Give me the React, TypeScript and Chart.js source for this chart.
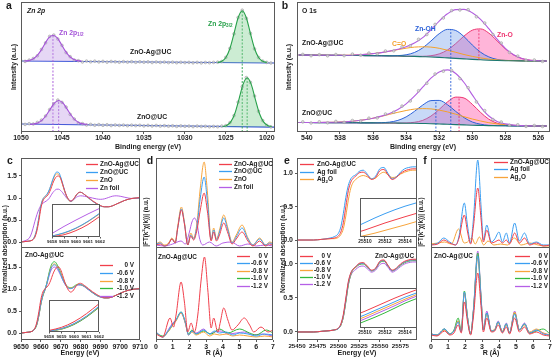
import React, { useEffect, useRef } from 'react';
import { Chart, registerables } from 'chart.js';

Chart.register(...registerables);

const FONT = '"Liberation Sans", Arial, Helvetica, sans-serif';
const RED = '#f13f4b';
const BLUE = '#3a9ef2';
const ORANGE = '#f7a43b';
const PURPLE = '#b55fe6';
const GREEN = '#32b83c';
const FRAME = '#5a5a5a';
const INK = '#1c1c1c';
const A_PURPLE = '#a452d8';
const A_PURPLE_FILL = 'rgba(190,150,228,0.38)';
const A_GREEN = '#27a04a';
const A_GREEN_FILL = 'rgba(120,205,140,0.38)';
const A_BASE = '#2d4fd6';
const RAW_EDGE = '#9a9a9a';
const RAW_FILL = 'rgba(215,215,215,0.7)';
const B_ENV = '#b25ee0';
const B_ZNO = '#ee3470';
const B_ZNO_FILL = 'rgba(255,120,185,0.55)';
const B_OH = '#2b61d8';
const B_OH_FILL = 'rgba(110,155,235,0.38)';
const B_CO = '#f4a12a';
const B_BASE = '#1b7a70';

// ---------------- panel a : Zn 2p XPS ----------------
const aRawStart = 1050;
const aRawStep = -0.5;
const aRawTop = [71.3,70.6,71.9,73.5,76.2,82.6,89.1,95.6,96.9,92.9,86.6,79.4,75.3,72.0,71.3,70.0,70.9,70.2,70.8,70.1,70.6,69.9,70.5,70.2,69.8,70.4,69.9,70.3,69.7,70.2,69.8,70.1,69.5,70.0,69.6,69.9,69.4,69.8,69.3,69.7,69.4,69.6,69.2,69.6,69.1,69.5,69.3,69.6,69.8,70.5,74.6,83.6,98.1,114.5,121.8,113.6,98.6,83.1,74.5,70.9,69.6,69.0];
const aRawBot = [8.4,7.6,8.3,8.0,9.6,11.9,16.0,22.4,28.0,31.9,29.6,24.9,17.6,13.0,9.0,8.4,7.0,7.6,6.8,7.4,6.7,7.2,6.5,7.0,6.6,6.9,6.3,6.8,6.4,6.7,6.1,6.6,6.0,6.5,5.9,6.3,5.8,6.2,5.6,6.1,5.7,5.9,5.4,5.9,5.5,5.7,5.2,5.6,5.3,5.9,6.4,9.4,16.4,29.9,45.3,54.4,49.6,36.0,20.7,11.4,6.6,5.1];
const aFitTop1 = [[1049.6,71.0],[1049.1,71.4],[1048.6,72.8],[1048.1,75.8],[1047.6,81.1],[1047.1,88.0],[1046.6,94.3],[1046.1,96.8],[1045.6,94.3],[1045.1,88.0],[1044.6,81.1],[1044.1,75.8],[1043.6,72.8],[1043.1,71.4],[1042.6,71.0]];
const aFitTop2 = [[1026,69.6],[1025.5,70.7],[1025,74.5],[1024.5,83.5],[1024,98.5],[1023.5,114.3],[1023,121.3],[1022.5,114.3],[1022,98.5],[1021.5,83.5],[1021,74.5],[1020.5,70.7],[1020,69.6]];
const aFitBot1 = [[1048.9,7.65],[1048.4,8.1],[1047.9,9.3],[1047.4,12.1],[1046.9,17.0],[1046.4,23.4],[1045.9,29.1],[1045.4,31.5],[1044.9,29.1],[1044.4,23.4],[1043.9,17.0],[1043.4,12.1],[1042.9,9.3],[1042.4,8.1],[1041.9,7.65]];
const aFitBot2 = [[1025.4,5.5],[1024.9,6.5],[1024.4,10.1],[1023.9,18.5],[1023.4,32.7],[1022.9,47.6],[1022.4,54.2],[1021.9,47.6],[1021.4,32.7],[1020.9,18.5],[1020.4,10.1],[1019.9,6.5],[1019.4,5.5]];
const aFitBase = [70.8, 69.3, 7.5, 5.2];
const aBaseTop = [[1050,71.0],[1019,69.0]];
const aBaseBot = [[1050,8.0],[1019,4.9]];
const aPeakPos = [1046.1, 1023.0, 1045.4, 1022.4];
const aPeakTop = [96.8, 121.3, 31.5, 54.2];

// ---------------- panel b : O 1s XPS ----------------
const bStart = 540.5;
const bStep = -0.5;
const bBaseTop = [77.0,76.9,76.8,76.8,76.7,76.6,76.5,76.5,76.4,76.3,76.2,76.1,76.0,75.8,75.6,75.3,75.0,74.6,74.1,73.6,73.1,72.6,72.2,71.8,71.5,71.3,71.2,71.1,71.0,71.0,71.0];
const bZnOTop = [77.0,76.9,76.8,76.8,76.7,76.6,76.5,76.5,76.4,76.3,76.2,76.1,76.0,75.8,75.7,75.7,76.3,78.1,82.0,88.4,95.9,101.8,103.1,98.9,91.1,83.1,77.1,73.5,71.8,71.2,71.0];
const bOHTop = [77.0,76.9,76.8,76.8,76.7,76.6,76.5,76.5,76.4,76.3,76.2,76.2,76.4,77.2,79.5,84.1,91.0,98.3,102.6,101.5,95.4,87.0,79.8,75.1,72.6,71.6,71.3,71.1,71.0,71.0,71.0];
const bCOTop = [77.0,76.9,76.8,76.8,76.7,76.8,76.8,77.2,77.6,78.4,79.4,80.8,82.4,83.8,84.9,85.2,84.9,83.7,81.8,79.7,77.5,75.6,74.1,72.9,72.1,71.6,71.3,71.1,71.0,71.0,71.0];
const bEnvTop = [77.0,76.9,76.8,76.8,76.8,76.8,76.8,77.2,77.6,78.4,79.4,80.9,82.8,85.2,88.9,94.4,102.2,110.9,118.2,122.4,122.6,119.2,112.6,103.3,92.8,83.7,77.2,73.5,71.8,71.2,71.0];
const bBaseBot = [9.5,9.5,9.4,9.4,9.3,9.3,9.2,9.2,9.1,9.1,9.0,9.0,8.9,8.8,8.7,8.5,8.3,8.0,7.7,7.4,7.1,6.8,6.6,6.4,6.3,6.2,6.1,6.1,6.0,6.0,6.0];
const bZnOBot = [9.5,9.5,9.4,9.4,9.3,9.3,9.2,9.2,9.1,9.1,9.0,9.0,8.9,9.1,9.7,11.6,15.9,22.6,30.1,34.9,34.0,27.7,19.6,12.8,8.8,7.0,6.3,6.1,6.0,6.0,6.0];
const bOHBot = [9.5,9.5,9.4,9.4,9.3,9.3,9.2,9.2,9.1,9.1,9.3,9.9,11.6,15.1,20.6,26.9,31.4,31.6,27.3,20.6,14.4,10.0,7.8,6.7,6.3,6.2,6.1,6.1,6.0,6.0,6.0];
const bCOBot = [9.5,9.5,9.5,9.6,9.7,10.0,10.4,11.2,12.3,13.8,15.6,17.7,19.7,21.5,22.9,23.4,23.1,21.9,20.1,17.8,15.3,13.0,11.0,9.3,8.1,7.3,6.7,6.4,6.1,6.0,6.0];
const bEnvBot = [9.5,9.5,9.5,9.6,9.7,10.0,10.4,11.2,12.3,13.8,15.9,18.6,22.5,28.1,35.8,44.9,53.8,60.1,62.1,58.5,49.5,37.1,25.2,16.0,10.6,8.1,6.9,6.4,6.1,6.0,6.0];
const bRawStart = 540.25;
const bRawTop = [77.6,76.3,77.3,76.2,77.5,76.4,77.9,76.8,78.9,78.2,81.0,81.2,85.1,86.2,92.7,97.5,107.6,114.0,121.4,122.0,122.3,115.2,109.0,97.4,89.0,79.6,75.9,71.9,72.0,70.6];
const bRawBot = [10.1,9.0,10.2,9.2,10.6,9.7,11.5,11.1,13.8,14.1,18.0,19.8,25.9,31.0,41.2,48.7,58.0,60.8,61.5,53.4,44.3,30.1,21.4,12.5,10.0,6.8,7.2,5.6,6.5,5.5];
const bLines = [
  { x: 531.3, y0: 0, y1: 102.9, c: B_OH },
  { x: 529.6, y0: 72.2, y1: 103.2, c: B_ZNO },
  { x: 532.2, y0: 0, y1: 31.8, c: B_OH },
  { x: 530.8, y0: 0, y1: 34.9, c: B_ZNO },
];

// ---------------- panel c : Zn K-edge XANES ----------------
const cE = [9650,9652,9654,9655,9656,9657,9658,9659,9660,9661,9662,9663,9664,9665,9666,9667,9668,9669,9670,9671,9672,9673,9674,9675,9676,9677,9678,9679,9680,9682,9684,9686,9688,9690,9692,9694,9696,9698,9700,9702,9704,9706,9708,9710];
const cZnOAg = [0,0.01,0.02,0.03,0.05,0.11,0.25,0.48,0.76,0.93,1.0,1.04,1.1,1.2,1.33,1.43,1.49,1.5,1.44,1.31,1.17,1.05,0.97,0.93,0.95,1.01,1.08,1.12,1.13,1.08,1.01,0.94,0.88,0.83,0.8,0.8,0.82,0.86,0.9,0.94,0.97,0.99,1.0,1.01];
const cZnOUC = [0,0.01,0.02,0.03,0.06,0.14,0.3,0.55,0.82,0.97,1.03,1.08,1.16,1.28,1.42,1.53,1.59,1.58,1.48,1.33,1.17,1.04,0.96,0.92,0.94,1.0,1.07,1.12,1.13,1.08,1.0,0.93,0.87,0.82,0.8,0.8,0.82,0.86,0.9,0.94,0.97,0.99,1.0,1.0];
const cZnO = [0,0.01,0.02,0.03,0.06,0.14,0.3,0.55,0.82,0.97,1.03,1.08,1.15,1.27,1.4,1.5,1.55,1.54,1.45,1.3,1.15,1.03,0.95,0.92,0.94,1.0,1.07,1.12,1.13,1.08,1.0,0.93,0.87,0.82,0.8,0.8,0.82,0.86,0.9,0.94,0.97,0.99,1.0,1.0];
const cZnFoil = [0,0.03,0.08,0.16,0.3,0.47,0.62,0.74,0.83,0.88,0.91,0.94,0.98,1.05,1.12,1.17,1.2,1.2,1.17,1.12,1.06,1.0,0.96,0.94,0.95,0.98,1.02,1.04,1.05,1.04,1.02,1.0,0.98,0.97,0.98,1.01,1.04,1.05,1.04,1.02,1.0,0.99,0.99,1.0];
const cM06 = [0,0.01,0.02,0.03,0.05,0.1,0.21,0.41,0.67,0.86,0.98,1.12,1.3,1.45,1.53,1.55,1.51,1.43,1.33,1.22,1.13,1.06,1.02,1.01,1.02,1.05,1.08,1.1,1.1,1.06,0.99,0.92,0.86,0.82,0.8,0.8,0.82,0.86,0.9,0.94,0.97,0.99,1.0,1.0];
const cM08 = [0,0.01,0.02,0.03,0.05,0.1,0.2,0.4,0.66,0.85,0.98,1.12,1.31,1.47,1.55,1.57,1.53,1.45,1.35,1.24,1.14,1.07,1.03,1.02,1.03,1.06,1.09,1.1,1.1,1.06,0.99,0.92,0.86,0.82,0.8,0.8,0.82,0.86,0.9,0.94,0.97,0.99,1.0,1.0];
const cM10 = [0,0.01,0.02,0.03,0.05,0.09,0.19,0.39,0.65,0.84,0.97,1.13,1.34,1.51,1.6,1.62,1.57,1.48,1.37,1.25,1.15,1.08,1.04,1.03,1.04,1.07,1.1,1.11,1.1,1.06,0.99,0.92,0.86,0.82,0.8,0.8,0.82,0.86,0.9,0.94,0.97,0.99,1.0,1.0];
const cM12 = [0,0.01,0.02,0.03,0.05,0.1,0.2,0.4,0.66,0.85,0.97,1.1,1.27,1.41,1.48,1.5,1.47,1.4,1.31,1.21,1.12,1.06,1.02,1.01,1.02,1.05,1.08,1.09,1.09,1.05,0.98,0.92,0.86,0.82,0.8,0.8,0.82,0.86,0.9,0.94,0.97,0.99,1.0,1.0];
const cInsE = [9658, 9659, 9660, 9661, 9662];
const cInsTopFoil = [0.08, 0.3, 0.5, 0.69, 0.87];
const cInsTopUC = [0.0, 0.1, 0.25, 0.46, 0.72];
const cInsTopZnO = [0.0, 0.09, 0.24, 0.45, 0.7];
const cInsTopAg = [-0.02, 0.04, 0.17, 0.36, 0.62];
const cInsBot0 = [0.02, 0.12, 0.3, 0.56, 0.88];
const cInsBot06 = [0.0, 0.08, 0.24, 0.48, 0.8];
const cInsBot08 = [0.0, 0.07, 0.23, 0.47, 0.78];
const cInsBot10 = [0.0, 0.06, 0.21, 0.45, 0.76];
const cInsBot12 = [0.0, 0.07, 0.22, 0.46, 0.78];

// ---------------- panel d : Zn K-edge FT-EXAFS ----------------
const dAg = [[0,0.3],[0.25,0.4],[0.5,0.2],[0.75,0.4],[0.95,0.9],[1.15,0.5],[1.3,2.0],[1.52,3.8],[1.7,2.4],[1.9,0.3],[2.08,1.2],[2.25,0.8],[2.45,1.8],[2.65,3.8],[2.88,5.5],[3.08,3.6],[3.3,0.7],[3.45,1.6],[3.62,0.7],[3.8,1.3],[4.05,2.5],[4.3,1.5],[4.55,0.4],[4.8,0.9],[5.15,1.6],[5.5,0.7],[5.8,0.2],[6.2,0.7],[6.55,0.2],[6.8,0.4],[7,0.3]];
const dUC = [[0,0.4],[0.25,0.5],[0.5,0.2],[0.75,0.4],[0.95,0.9],[1.15,0.5],[1.3,2.0],[1.52,3.9],[1.7,2.5],[1.9,0.3],[2.08,1.3],[2.25,0.9],[2.45,2.2],[2.65,5.0],[2.88,7.1],[3.08,4.6],[3.3,0.8],[3.45,1.8],[3.62,0.8],[3.8,1.6],[4.05,3.0],[4.3,1.8],[4.55,0.5],[4.8,1.1],[5.15,2.0],[5.5,0.9],[5.8,0.3],[6.2,0.9],[6.55,0.3],[6.8,0.5],[7,0.4]];
const dZnO = [[0,0.4],[0.25,0.6],[0.5,0.3],[0.75,0.5],[0.95,1.0],[1.15,0.6],[1.3,2.2],[1.52,4.1],[1.7,2.6],[1.9,0.3],[2.08,1.5],[2.25,1.0],[2.45,2.5],[2.65,6.0],[2.88,8.6],[3.08,5.5],[3.3,0.8],[3.45,2.0],[3.62,0.9],[3.8,1.8],[4.05,3.3],[4.3,2.0],[4.55,0.6],[4.8,1.3],[5.15,2.3],[5.5,1.0],[5.8,0.3],[6.2,1.0],[6.55,0.3],[6.8,0.6],[7,0.5]];
const dFoil = [[0,0.3],[0.5,0.2],[1.0,0.4],[1.5,0.7],[1.75,0.4],[2.0,1.6],[2.15,2.6],[2.3,3.0],[2.45,2.5],[2.6,1.0],[2.8,0.3],[3.2,0.6],[3.6,0.2],[4.0,0.5],[4.5,0.6],[5.0,0.2],[5.5,0.4],[6.0,0.2],[6.5,0.3],[7,0.2]];
const dV0 = [[0,0.6],[0.4,0.3],[0.84,2.2],[1.05,1.3],[1.2,2.5],[1.5,5.8],[1.7,3.8],[1.9,0.8],[2.1,1.7],[2.3,0.8],[2.5,2.5],[2.7,6.0],[2.9,8.3],[3.1,5.0],[3.3,1.2],[3.45,2.2],[3.7,0.8],[3.85,1.8],[4.05,3.2],[4.3,2.0],[4.55,1.0],[4.9,1.5],[5.28,2.2],[5.6,1.5],[5.85,0.8],[6.28,1.3],[6.7,0.8],[7,1.0]];
const dV06 = [[0,0.8],[0.4,0.3],[0.8,1.1],[1.0,1.6],[1.2,2.0],[1.5,2.8],[1.75,1.8],[1.95,0.5],[2.15,0.9],[2.4,0.6],[2.85,1.0],[3.2,0.6],[3.5,0.9],[3.8,0.7],[4.2,0.8],[4.6,0.5],[5.0,0.7],[5.5,0.6],[6.0,0.4],[6.5,0.6],[7,0.5]];
const dV08 = [[0,0.7],[0.4,0.3],[0.8,1.0],[1.0,1.5],[1.2,1.9],[1.5,2.7],[1.75,1.7],[1.95,0.5],[2.15,0.8],[2.4,0.5],[2.85,0.8],[3.2,0.4],[3.5,0.6],[3.8,0.5],[4.2,0.6],[4.6,0.4],[5.0,0.5],[5.5,0.4],[6.0,0.3],[6.5,0.4],[7,0.3]];
const dV10 = [[0,0.7],[0.4,0.4],[0.8,1.0],[1.0,1.5],[1.2,2.0],[1.5,2.8],[1.75,1.8],[1.95,0.6],[2.15,1.0],[2.4,0.6],[2.85,0.9],[3.3,0.6],[3.8,1.1],[4.3,0.7],[5.0,1.1],[5.6,0.7],[6.0,0.5],[6.6,1.0],[7,0.7]];
const dV12 = [[0,0.8],[0.4,0.3],[0.8,1.2],[1.0,1.7],[1.2,2.0],[1.5,2.7],[1.75,1.7],[1.95,0.5],[2.15,0.9],[2.4,0.7],[2.85,1.1],[3.2,0.6],[3.5,0.8],[3.9,0.9],[4.3,0.6],[4.8,0.7],[5.3,0.8],[5.8,0.5],[6.3,0.6],[7,0.4]];

// ---------------- panel e : Ag K-edge XANES ----------------
const eE = [25450,25470,25480,25490,25495,25500,25503,25506,25509,25512,25515,25518,25521,25525,25530,25535,25540,25545,25550,25555,25560,25565,25570,25575,25580,25585,25590,25595];
const eAg = [0,0.0,0.01,0.02,0.03,0.06,0.12,0.26,0.5,0.74,0.87,0.93,0.96,1.01,1.02,0.97,0.91,0.94,1.04,1.06,0.98,0.91,0.94,1.0,1.04,1.06,1.07,1.07];
const eFoil = [0,0.0,0.01,0.03,0.05,0.1,0.2,0.4,0.64,0.82,0.92,0.96,0.98,1.03,1.05,0.99,0.92,0.96,1.07,1.09,1.0,0.92,0.95,1.02,1.07,1.09,1.1,1.1];
const eAg2O = [0,0.0,0.01,0.02,0.02,0.04,0.08,0.17,0.36,0.6,0.78,0.87,0.91,0.95,0.97,0.95,0.92,0.93,0.99,1.02,0.98,0.94,0.95,0.99,1.02,1.04,1.05,1.05];
const eM06 = [0,0.0,0.01,0.02,0.03,0.05,0.11,0.24,0.47,0.72,0.86,0.93,0.96,1.0,1.01,0.96,0.9,0.93,1.03,1.05,0.97,0.9,0.93,0.99,1.03,1.05,1.06,1.06];
const eM08 = [0,0.0,0.01,0.02,0.03,0.05,0.1,0.23,0.46,0.71,0.85,0.92,0.95,1.0,1.01,0.96,0.9,0.93,1.03,1.05,0.97,0.9,0.93,0.99,1.03,1.05,1.06,1.06];
const eM10 = [0,0.0,0.01,0.02,0.03,0.05,0.1,0.22,0.44,0.69,0.84,0.92,0.95,0.99,1.0,0.95,0.9,0.93,1.02,1.04,0.97,0.9,0.93,0.98,1.02,1.04,1.05,1.05];
const eM12 = [0,0.0,0.01,0.02,0.03,0.05,0.1,0.22,0.45,0.69,0.83,0.89,0.92,0.96,0.97,0.93,0.88,0.91,0.99,1.01,0.95,0.88,0.91,0.96,1.0,1.02,1.03,1.03];
const eInsE = [25509.5, 25510, 25511, 25512, 25513, 25514, 25515.2];
const eInsTopFoil = [0.31,0.37,0.49,0.6,0.7,0.79,0.88];
const eInsTopAg = [0.14,0.18,0.27,0.36,0.44,0.52,0.61];
const eInsTopAg2O = [0.01,0.04,0.1,0.17,0.24,0.31,0.4];
const eInsBot0 = [0.37,0.42,0.53,0.64,0.75,0.85,0.96];
const eInsBot06 = [0.28,0.33,0.44,0.55,0.66,0.77,0.88];
const eInsBot08 = [0.23,0.28,0.39,0.5,0.61,0.72,0.84];
const eInsBot10 = [0.12,0.17,0.27,0.38,0.5,0.62,0.74];
const eInsBot12 = [0.18,0.23,0.34,0.45,0.56,0.68,0.8];

// ---------------- panel f : Ag K-edge FT-EXAFS ----------------
const fFoil = [[0,0.3],[0.4,0.5],[0.75,1.0],[1.1,0.6],[1.45,0.3],[1.65,1.2],[1.96,4.5],[2.15,2.2],[2.33,0.5],[2.5,3.0],[2.75,8.8],[2.95,4.0],[3.08,0.8],[3.28,2.3],[3.55,0.6],[3.75,0.9],[4.0,1.6],[4.2,0.6],[4.43,1.5],[4.62,0.5],[4.92,2.5],[5.2,0.7],[5.5,1.5],[5.8,0.4],[6.2,0.6],[6.6,0.3],[7,0.3]];
const fAg = [[0,0.3],[0.4,0.4],[0.75,0.8],[1.1,0.5],[1.45,0.3],[1.65,1.0],[1.96,3.3],[2.15,1.6],[2.33,0.4],[2.5,2.2],[2.75,6.0],[2.95,2.8],[3.08,0.6],[3.28,1.8],[3.55,0.5],[3.75,0.6],[4.0,0.8],[4.2,0.5],[4.43,0.8],[4.62,0.4],[4.92,1.5],[5.2,0.5],[5.5,1.0],[5.8,0.3],[6.2,0.5],[6.6,0.2],[7,0.3]];
const fAg2O = [[0,0.4],[0.4,0.5],[0.8,0.6],[1.2,0.4],[1.62,1.9],[1.95,0.5],[2.15,0.6],[2.4,1.0],[2.6,0.4],[2.85,1.1],[3.1,0.3],[3.35,0.7],[3.7,0.3],[4.1,0.4],[4.5,0.3],[4.9,1.0],[5.3,0.3],[5.8,0.5],[6.3,0.3],[6.7,0.2],[7,0.2]];
const fV0 = [[0,0.5],[0.35,0.4],[0.8,0.9],[1.1,0.5],[1.35,0.7],[1.6,1.5],[1.78,0.7],[1.96,3.8],[2.15,1.8],[2.33,0.5],[2.5,2.4],[2.75,6.7],[2.95,3.2],[3.08,0.8],[3.28,2.2],[3.55,0.8],[3.75,0.9],[3.95,1.5],[4.2,0.7],[4.43,1.3],[4.62,0.6],[4.92,2.2],[5.2,0.8],[5.5,1.3],[5.8,0.6],[6.2,0.8],[6.6,0.5],[7,0.4]];
const fV06 = [[0,0.6],[0.35,0.5],[0.8,1.1],[1.1,0.6],[1.35,0.9],[1.6,1.8],[1.78,0.8],[1.96,4.8],[2.15,2.2],[2.33,0.6],[2.5,3.0],[2.75,8.4],[2.95,4.0],[3.08,1.0],[3.28,2.7],[3.55,0.9],[3.75,1.0],[3.95,1.8],[4.2,0.8],[4.43,1.6],[4.62,0.7],[4.92,2.6],[5.2,1.0],[5.5,1.6],[5.8,0.7],[6.2,1.0],[6.6,0.6],[7,0.5]];
const fV08 = [[0,0.6],[0.35,0.5],[0.8,1.0],[1.1,0.6],[1.35,0.9],[1.6,1.9],[1.78,0.8],[1.96,4.7],[2.15,2.2],[2.33,0.6],[2.5,2.9],[2.75,8.2],[2.95,3.9],[3.08,1.0],[3.28,2.6],[3.55,0.9],[3.75,1.1],[3.95,1.7],[4.2,0.9],[4.43,1.5],[4.62,0.7],[4.92,2.8],[5.2,1.0],[5.5,1.5],[5.8,0.8],[6.2,1.1],[6.6,0.7],[7,0.5]];
const fV10 = [[0,0.6],[0.35,0.5],[0.8,1.1],[1.1,0.6],[1.35,1.0],[1.6,2.2],[1.78,0.9],[1.96,4.9],[2.15,2.3],[2.33,0.6],[2.5,3.1],[2.75,8.7],[2.95,4.1],[3.08,1.0],[3.28,2.7],[3.55,0.9],[3.75,1.0],[3.95,1.8],[4.2,0.8],[4.43,1.6],[4.62,0.7],[4.92,2.7],[5.2,1.0],[5.5,1.6],[5.8,0.7],[6.2,0.9],[6.6,1.1],[7,0.6]];
const fV12 = [[0,0.6],[0.35,0.5],[0.8,1.1],[1.1,0.6],[1.35,0.9],[1.6,1.9],[1.78,0.8],[1.96,4.7],[2.15,2.2],[2.33,0.6],[2.5,3.1],[2.75,8.9],[2.95,4.2],[3.08,1.0],[3.28,2.9],[3.55,0.9],[3.75,1.0],[3.95,1.9],[4.2,0.8],[4.43,1.7],[4.62,0.7],[4.92,2.9],[5.2,1.0],[5.5,1.7],[5.8,0.7],[6.2,1.0],[6.6,0.7],[7,0.5]];

// ---------------- helpers ----------------
const pairs = (arr: number[][]) => arr.map(([x, y]) => ({ x, y }));
const zipXY = (xs: number[], ys: number[]) => ys.map((y, i) => ({ x: xs[i], y }));
const stepped = (start: number, step: number, ys: number[]) => ys.map((y, i) => ({ x: start + i * step, y }));

function L(data: any[], color: string, extra: any = {}) {
  return {
    data, borderColor: color, backgroundColor: color, borderWidth: 1,
    pointRadius: 0, fill: false, cubicInterpolationMode: 'monotone', clip: 0, ...extra,
  };
}
function raw(data: any[]) {
  return {
    data, showLine: false, pointRadius: 1.35, pointBorderWidth: 0.6,
    pointBorderColor: RAW_EDGE, pointBackgroundColor: RAW_FILL, borderColor: RAW_EDGE, clip: 0,
  };
}
function vline(x: number, y0: number, y1: number, color: string) {
  return {
    data: [{ x, y: y0 }, { x, y: y1 }], borderColor: color, borderWidth: 0.9,
    borderDash: [2, 1.5], pointRadius: 0, tension: 0, fill: false, clip: 0,
  };
}

const f1 = (v: number) => v.toFixed(1);

type Ax = { min: number; max: number; reverse?: boolean; ticks?: number[]; fmt?: (v: number) => string; fs?: number; tl?: number; pad?: number };
type Spec = { id: string; box: number[]; pad: number[]; x: Ax; y: Ax; showX: boolean; showY: boolean; bg?: string; datasets: () => any[] };

// box = [left, top, right, bottom] in page px, pad = [top, right, bottom, left]
const SPECS: Spec[] = [
  {
    id: 'a', box: [21, 2, 275, 132], pad: [2, 8, 12, 10],
    x: { min: 1019, max: 1050, reverse: true, ticks: [1050, 1045, 1040, 1035, 1030, 1025, 1020], tl: 2, pad: 0 },
    y: { min: 0, max: 130 }, showX: true, showY: false,
    datasets: () => [
      L(pairs(aFitTop1), A_PURPLE, { fill: { value: aFitBase[0] }, backgroundColor: A_PURPLE_FILL, borderWidth: 1.1 }),
      L(pairs(aFitTop2), A_GREEN, { fill: { value: aFitBase[1] }, backgroundColor: A_GREEN_FILL, borderWidth: 1.1 }),
      L(pairs(aFitBot1), A_PURPLE, { fill: { value: aFitBase[2] }, backgroundColor: A_PURPLE_FILL, borderWidth: 1.1 }),
      L(pairs(aFitBot2), A_GREEN, { fill: { value: aFitBase[3] }, backgroundColor: A_GREEN_FILL, borderWidth: 1.1 }),
      raw(stepped(aRawStart, aRawStep, aRawTop)),
      raw(stepped(aRawStart, aRawStep, aRawBot)),
      vline(aPeakPos[0], 0, aPeakTop[0], A_PURPLE),
      vline(aPeakPos[1], 0, aPeakTop[1], A_GREEN),
      vline(aPeakPos[2], 0, aPeakTop[2], A_PURPLE),
      vline(aPeakPos[3], 0, aPeakTop[3], A_GREEN),
      L(pairs(aBaseTop), A_BASE, { borderWidth: 1.2, tension: 0, cubicInterpolationMode: 'default' }),
      L(pairs(aBaseBot), A_BASE, { borderWidth: 1.2, tension: 0, cubicInterpolationMode: 'default' }),
    ],
  },
  {
    id: 'b', box: [297, 2, 550, 132], pad: [2, 4, 12, 10],
    x: { min: 525.3, max: 540.6, reverse: true, ticks: [540, 538, 536, 534, 532, 530, 528, 526], tl: 2, pad: 0 },
    y: { min: 0, max: 130 }, showX: true, showY: false,
    datasets: () => [
      raw(stepped(bRawStart, bStep, bRawTop)),
      raw(stepped(bRawStart, bStep, bRawBot)),
      L(stepped(bStart, bStep, bEnvTop), B_ENV, { borderWidth: 1.1 }),
      L(stepped(bStart, bStep, bEnvBot), B_ENV, { borderWidth: 1.1 }),
      ...bLines.map((l) => vline(l.x, l.y0, l.y1, l.c)),
      L(stepped(bStart, bStep, bBaseTop), B_BASE, { borderWidth: 1.1 }), // 8
      L(stepped(bStart, bStep, bBaseBot), B_BASE, { borderWidth: 1.1 }), // 9
      L(stepped(bStart, bStep, bCOTop), B_CO),
      L(stepped(bStart, bStep, bCOBot), B_CO),
      L(stepped(bStart, bStep, bOHTop), B_OH, { fill: 8, backgroundColor: B_OH_FILL }),
      L(stepped(bStart, bStep, bOHBot), B_OH, { fill: 9, backgroundColor: B_OH_FILL }),
      L(stepped(bStart, bStep, bZnOTop), B_ZNO, { fill: 8, backgroundColor: B_ZNO_FILL }),
      L(stepped(bStart, bStep, bZnOBot), B_ZNO, { fill: 9, backgroundColor: B_ZNO_FILL }),
    ],
  },
  {
    id: 'cT', box: [21, 158, 140, 248], pad: [2, 2, 1, 20],
    x: { min: 9650, max: 9710 }, y: { min: -0.136, max: 1.909, ticks: [0, 0.5, 1, 1.5], fmt: f1, tl: 2, pad: 2 },
    showX: false, showY: true,
    datasets: () => [
      L(zipXY(cE, cZnOAg), RED), L(zipXY(cE, cZnOUC), BLUE), L(zipXY(cE, cZnO), ORANGE), L(zipXY(cE, cZnFoil), PURPLE),
    ],
  },
  {
    id: 'cB', box: [21, 247, 140, 340], pad: [2, 12, 12, 20],
    x: { min: 9650, max: 9710, ticks: [9650, 9660, 9670, 9680, 9690, 9700, 9710] },
    y: { min: -0.159, max: 1.955, ticks: [0, 0.5, 1, 1.5], fmt: f1, tl: 2, pad: 2 },
    showX: true, showY: true,
    datasets: () => [
      L(zipXY(cE, cZnOAg), RED), L(zipXY(cE, cM06), BLUE), L(zipXY(cE, cM08), ORANGE), L(zipXY(cE, cM10), GREEN), L(zipXY(cE, cM12), PURPLE),
    ],
  },
  {
    id: 'dT', box: [156, 158, 273, 248], pad: [2, 2, 1, 4],
    x: { min: 0, max: 7 }, y: { min: 0, max: 9.0 }, showX: false, showY: false,
    datasets: () => [
      L(pairs(dAg), RED), L(pairs(dUC), BLUE), L(pairs(dZnO), ORANGE), L(pairs(dFoil), PURPLE),
    ],
  },
  {
    id: 'dB', box: [156, 247, 273, 340], pad: [2, 6, 12, 6],
    x: { min: 0, max: 7, ticks: [0, 1, 2, 3, 4, 5, 6, 7] }, y: { min: 0, max: 9.3 }, showX: true, showY: false,
    datasets: () => [
      L(pairs(dV0), RED), L(pairs(dV06), BLUE), L(pairs(dV08), ORANGE), L(pairs(dV10), GREEN), L(pairs(dV12), PURPLE),
    ],
  },
  {
    id: 'eT', box: [297, 158, 417, 248], pad: [2, 2, 1, 20],
    x: { min: 25450, max: 25595 }, y: { min: -0.12, max: 1.233, ticks: [0, 0.5, 1], fmt: f1, tl: 2, pad: 2 },
    showX: false, showY: true,
    datasets: () => [L(zipXY(eE, eAg), RED), L(zipXY(eE, eFoil), BLUE), L(zipXY(eE, eAg2O), ORANGE)],
  },
  {
    id: 'eB', box: [297, 247, 417, 340], pad: [2, 8, 12, 20],
    x: { min: 25450, max: 25595, ticks: [25450, 25475, 25500, 25525, 25550, 25575], fs: 6.2 },
    y: { min: -0.118, max: 1.25, ticks: [0, 0.5, 1], fmt: f1, tl: 2, pad: 2 },
    showX: true, showY: true,
    datasets: () => [
      L(zipXY(eE, eAg), RED), L(zipXY(eE, eM06), BLUE), L(zipXY(eE, eM08), ORANGE), L(zipXY(eE, eM10), GREEN), L(zipXY(eE, eM12), PURPLE),
    ],
  },
  {
    id: 'fT', box: [431, 158, 550, 248], pad: [2, 2, 1, 4],
    x: { min: 0, max: 7 }, y: { min: 0, max: 9.0 }, showX: false, showY: false,
    datasets: () => [L(pairs(fAg), RED), L(pairs(fFoil), BLUE), L(pairs(fAg2O), ORANGE)],
  },
  {
    id: 'fB', box: [431, 247, 550, 340], pad: [2, 4, 12, 6],
    x: { min: 0, max: 7, ticks: [0, 1, 2, 3, 4, 5, 6, 7] }, y: { min: 0, max: 9.3 }, showX: true, showY: false,
    datasets: () => [
      L(pairs(fV0), RED), L(pairs(fV06), BLUE), L(pairs(fV08), ORANGE), L(pairs(fV10), GREEN), L(pairs(fV12), PURPLE),
    ],
  },
  {
    id: 'cIT', box: [52, 204, 100, 237], pad: [1, 6, 8, 6], bg: '#ffffff',
    x: { min: 9658, max: 9662, ticks: cInsE, fs: 4.4, tl: 1.5, pad: 0.3 }, y: { min: -0.03, max: 1.0 },
    showX: true, showY: false,
    datasets: () => [
      L(zipXY(cInsE, cInsTopAg), RED), L(zipXY(cInsE, cInsTopUC), BLUE), L(zipXY(cInsE, cInsTopZnO), ORANGE), L(zipXY(cInsE, cInsTopFoil), PURPLE),
    ],
  },
  {
    id: 'cIB', box: [49, 300, 99, 332], pad: [1, 6, 8, 6], bg: '#ffffff',
    x: { min: 9658, max: 9662, ticks: cInsE, fs: 4.4, tl: 1.5, pad: 0.3 }, y: { min: -0.03, max: 1.0 },
    showX: true, showY: false,
    datasets: () => [
      L(zipXY(cInsE, cInsBot0), RED), L(zipXY(cInsE, cInsBot06), BLUE), L(zipXY(cInsE, cInsBot08), ORANGE), L(zipXY(cInsE, cInsBot10), GREEN), L(zipXY(cInsE, cInsBot12), PURPLE),
    ],
  },
  {
    id: 'eIT', box: [360, 198, 417, 237], pad: [1, 2, 8, 6], bg: '#ffffff',
    x: { min: 25509.5, max: 25515.2, ticks: [25510, 25512, 25514], fs: 4.8, tl: 1.5, pad: 0.3 }, y: { min: 0, max: 1.0 },
    showX: true, showY: false,
    datasets: () => [L(zipXY(eInsE, eInsTopAg), RED), L(zipXY(eInsE, eInsTopFoil), BLUE), L(zipXY(eInsE, eInsTopAg2O), ORANGE)],
  },
  {
    id: 'eIB', box: [360, 288, 417, 328], pad: [1, 2, 8, 6], bg: '#ffffff',
    x: { min: 25509.5, max: 25515.2, ticks: [25510, 25512, 25514], fs: 4.8, tl: 1.5, pad: 0.3 }, y: { min: 0, max: 1.0 },
    showX: true, showY: false,
    datasets: () => [
      L(zipXY(eInsE, eInsBot0), RED), L(zipXY(eInsE, eInsBot06), BLUE), L(zipXY(eInsE, eInsBot08), ORANGE), L(zipXY(eInsE, eInsBot12), PURPLE), L(zipXY(eInsE, eInsBot10), GREEN),
    ],
  },
];

function geom(s: Spec) {
  const [l, t, r, b] = s.box;
  const [pt, pr, pb, pl] = s.pad;
  return { x: l - pl, y: t - pt, w: r - l + pl + pr, h: b - t + pt + pb };
}

function axisOptions(a: Ax, show: boolean, isX: boolean, size: number) {
  return {
    type: 'linear',
    display: show,
    min: a.min,
    max: a.max,
    reverse: !!a.reverse,
    afterBuildTicks: (s: any) => { if (a.ticks) s.ticks = a.ticks.map((v) => ({ value: v })); },
    afterFit: (s: any) => {
      const sz = show ? size : 0;
      if (isX) s.height = sz; else s.width = sz;
      s.paddingLeft = 0; s.paddingRight = 0; s.paddingTop = 0; s.paddingBottom = 0;
    },
    grid: { display: true, drawOnChartArea: false, drawTicks: true, tickLength: a.tl ?? 2, color: FRAME, lineWidth: 1 },
    border: { display: false },
    ticks: {
      autoSkip: false, maxRotation: 0, minRotation: 0, padding: a.pad ?? 0.5,
      color: INK, font: { family: FONT, size: a.fs ?? 7, weight: 'bold' },
      callback: (v: number) => (a.fmt ? a.fmt(v) : String(v)),
    },
  };
}

function buildConfig(s: Spec): any {
  const [pt, pr, pb, pl] = s.pad;
  const frame = {
    id: 'frame_' + s.id,
    beforeDatasetsDraw(chart: any) {
      if (!s.bg) return;
      const a = chart.chartArea; const ctx = chart.ctx;
      ctx.save(); ctx.fillStyle = s.bg; ctx.fillRect(a.left, a.top, a.right - a.left, a.bottom - a.top); ctx.restore();
    },
    afterDatasetsDraw(chart: any) {
      const a = chart.chartArea; const ctx = chart.ctx;
      ctx.save(); ctx.strokeStyle = FRAME; ctx.lineWidth = 1;
      ctx.strokeRect(a.left + 0.5, a.top + 0.5, a.right - a.left - 1, a.bottom - a.top - 1);
      ctx.restore();
    },
  };
  return {
    type: 'line',
    data: { datasets: s.datasets() },
    options: {
      responsive: false, maintainAspectRatio: false, animation: false, events: [],
      layout: { autoPadding: false, padding: { top: pt, right: pr, bottom: s.showX ? 0 : pb, left: s.showY ? 0 : pl } },
      plugins: { legend: { display: false }, tooltip: { enabled: false }, title: { display: false } },
      scales: { x: axisOptions(s.x, s.showX, true, pb), y: axisOptions(s.y, s.showY, false, pl) },
    },
    plugins: [frame],
  };
}

// ---------------- text overlay ----------------
type Seg = { t: string; sub?: boolean; sup?: boolean };
function rich(ctx: CanvasRenderingContext2D, x: number, y: number, segs: Seg[] | string, o: any = {}) {
  const size = o.size ?? 7;
  const list: Seg[] = typeof segs === 'string' ? [{ t: segs }] : segs;
  const fontOf = (s: Seg) => `${o.italic ? 'italic ' : ''}bold ${(s.sub || s.sup) ? size * 0.68 : size}px ${FONT}`;
  let w = 0;
  for (const s of list) { ctx.font = fontOf(s); w += ctx.measureText(s.t).width; }
  ctx.save();
  ctx.translate(x, y);
  if (o.rot) ctx.rotate(-Math.PI / 2);
  let cx = o.align === 'center' ? -w / 2 : o.align === 'right' ? -w : 0;
  ctx.fillStyle = o.color ?? INK; ctx.textBaseline = 'middle'; ctx.textAlign = 'left';
  for (const s of list) {
    ctx.font = fontOf(s);
    const dy = s.sub ? size * 0.32 : s.sup ? -size * 0.32 : 0;
    ctx.fillText(s.t, cx, dy);
    cx += ctx.measureText(s.t).width;
  }
  ctx.restore();
}
function legend(ctx: CanvasRenderingContext2D, x1: number, x2: number, ys: number[], colors: string[], labels: (Seg[] | string)[], tx: number, align: string) {
  ys.forEach((y, i) => {
    ctx.save(); ctx.strokeStyle = colors[i]; ctx.lineWidth = 1.3;
    ctx.beginPath(); ctx.moveTo(x1, y + 0.5); ctx.lineTo(x2, y + 0.5); ctx.stroke(); ctx.restore();
    rich(ctx, tx, y + 0.5, labels[i], { size: 6.4, align });
  });
}

const AG2O: Seg[] = [{ t: 'Ag' }, { t: '2', sub: true }, { t: 'O' }];
const FT_LABEL: Seg[] = [{ t: '|FT(k' }, { t: '3', sup: true }, { t: 'χ(k))| (a.u.)' }];
const VOLTS = ['0 V', '-0.6 V', '-0.8 V', '-1.0 V', '-1.2 V'];
const VCOLORS = [RED, BLUE, ORANGE, GREEN, PURPLE];

function drawOverlay(cv: HTMLCanvasElement | null) {
  if (!cv) return;
  const ctx = cv.getContext('2d');
  if (!ctx) return;
  ctx.clearRect(0, 0, cv.width, cv.height);
  [['a', 9, 6], ['b', 285, 6], ['c', 10, 161], ['d', 150, 161], ['e', 287, 161], ['f', 425, 161]].forEach(([t, x, y]) =>
    rich(ctx, x as number, y as number, t as string, { size: 10.5, align: 'center' }));
  // panel a
  rich(ctx, 14, 67, 'Intensity (a.u.)', { rot: true, align: 'center', size: 6.8 });
  rich(ctx, 148, 147, 'Binding energy (eV)', { align: 'center', size: 7 });
  rich(ctx, 27, 11, 'Zn 2p', { italic: true, size: 6.8 });
  rich(ctx, 59, 33, [{ t: 'Zn 2p' }, { t: '1/2', sub: true }], { color: A_PURPLE, size: 6.8 });
  rich(ctx, 208, 24, [{ t: 'Zn 2p' }, { t: '3/2', sub: true }], { color: A_GREEN, size: 6.8 });
  rich(ctx, 130, 52, 'ZnO-Ag@UC', { size: 6.8 });
  rich(ctx, 137, 117, 'ZnO@UC', { size: 6.8 });
  // panel b
  rich(ctx, 289, 67, 'Intensity (a.u.)', { rot: true, align: 'center', size: 6.8 });
  rich(ctx, 423, 147, 'Binding energy (eV)', { align: 'center', size: 7 });
  rich(ctx, 302, 11, 'O 1s', { size: 6.8 });
  rich(ctx, 415, 29, 'Zn-OH', { color: B_OH, size: 6.8 });
  rich(ctx, 497, 35, 'Zn-O', { color: B_ZNO, size: 6.8 });
  rich(ctx, 392, 44, 'C=O', { color: B_CO, size: 6.8 });
  rich(ctx, 302, 43, 'ZnO-Ag@UC', { size: 6.8 });
  rich(ctx, 302, 113, 'ZnO@UC', { size: 6.8 });
  // panel c
  rich(ctx, 5, 249, 'Normalized absorption (a.u.)', { rot: true, align: 'center', size: 6.5 });
  rich(ctx, 80, 353, 'Energy (eV)', { align: 'center', size: 7 });
  legend(ctx, 86, 98, [164, 172, 180, 188], [RED, BLUE, ORANGE, PURPLE], ['ZnO-Ag@UC', 'ZnO@UC', 'ZnO', 'Zn foil'], 100, 'left');
  rich(ctx, 25, 255, 'ZnO-Ag@UC', { size: 6.4 });
  legend(ctx, 100, 113, [265, 273, 281, 288, 296], VCOLORS, VOLTS, 134, 'right');
  // panel d
  rich(ctx, 146, 222, FT_LABEL, { rot: true, align: 'center', size: 6.3 });
  rich(ctx, 214, 353, 'R (Å)', { align: 'center', size: 7 });
  legend(ctx, 219, 232, [164, 171, 179, 187], [RED, BLUE, ORANGE, PURPLE], ['ZnO-Ag@UC', 'ZnO@UC', 'ZnO', 'Zn foil'], 234, 'left');
  rich(ctx, 158, 257, 'ZnO-Ag@UC', { size: 6.4 });
  legend(ctx, 237, 250, [256, 263, 271, 278, 286], VCOLORS, VOLTS, 268, 'right');
  // panel e
  rich(ctx, 283, 249, 'Normalized absorption (a.u.)', { rot: true, align: 'center', size: 6.5 });
  rich(ctx, 357, 353, 'Energy (eV)', { align: 'center', size: 7 });
  legend(ctx, 300, 314, [164, 172, 179], [RED, BLUE, ORANGE], ['ZnO-Ag@UC', 'Ag foil', AG2O], 317, 'left');
  rich(ctx, 414, 256, 'ZnO-Ag@UC', { size: 6.4, align: 'right' });
  legend(ctx, 300, 313, [256, 263, 270, 277, 284], VCOLORS, VOLTS, 331, 'right');
  // panel f
  rich(ctx, 421, 222, FT_LABEL, { rot: true, align: 'center', size: 6.3 });
  rich(ctx, 491, 353, 'R (Å)', { align: 'center', size: 7 });
  legend(ctx, 494, 508, [162, 169, 177], [RED, BLUE, ORANGE], ['ZnO-Ag@UC', 'Ag foil', AG2O], 510, 'left');
  rich(ctx, 434, 256, 'ZnO-Ag@UC', { size: 6.4 });
  legend(ctx, 515, 530, [256, 263, 271, 278, 286], VCOLORS, VOLTS, 548, 'right');
}

export default function App() {
  const refs = useRef<Record<string, HTMLCanvasElement | null>>({});
  const overlay = useRef<HTMLCanvasElement | null>(null);
  useEffect(() => {
    document.body.style.margin = '0';
    const charts: Chart[] = [];
    for (const s of SPECS) {
      const cv = refs.current[s.id];
      if (cv) charts.push(new Chart(cv, buildConfig(s)));
    }
    drawOverlay(overlay.current);
    return () => { charts.forEach((c) => c.destroy()); };
  }, []);
  return (
    <div style={{ position: 'absolute', left: 0, top: 0, width: 554, height: 359, background: '#ffffff', overflow: 'hidden' }}>
      {SPECS.map((s) => {
        const g = geom(s);
        return (
          <canvas key={s.id} ref={(el) => { refs.current[s.id] = el; }} width={g.w} height={g.h}
            style={{ position: 'absolute', left: g.x, top: g.y, width: g.w, height: g.h }} />
        );
      })}
      <canvas ref={overlay} width={554} height={359} style={{ position: 'absolute', left: 0, top: 0, width: 554, height: 359, pointerEvents: 'none' }} />
    </div>
  );
}
